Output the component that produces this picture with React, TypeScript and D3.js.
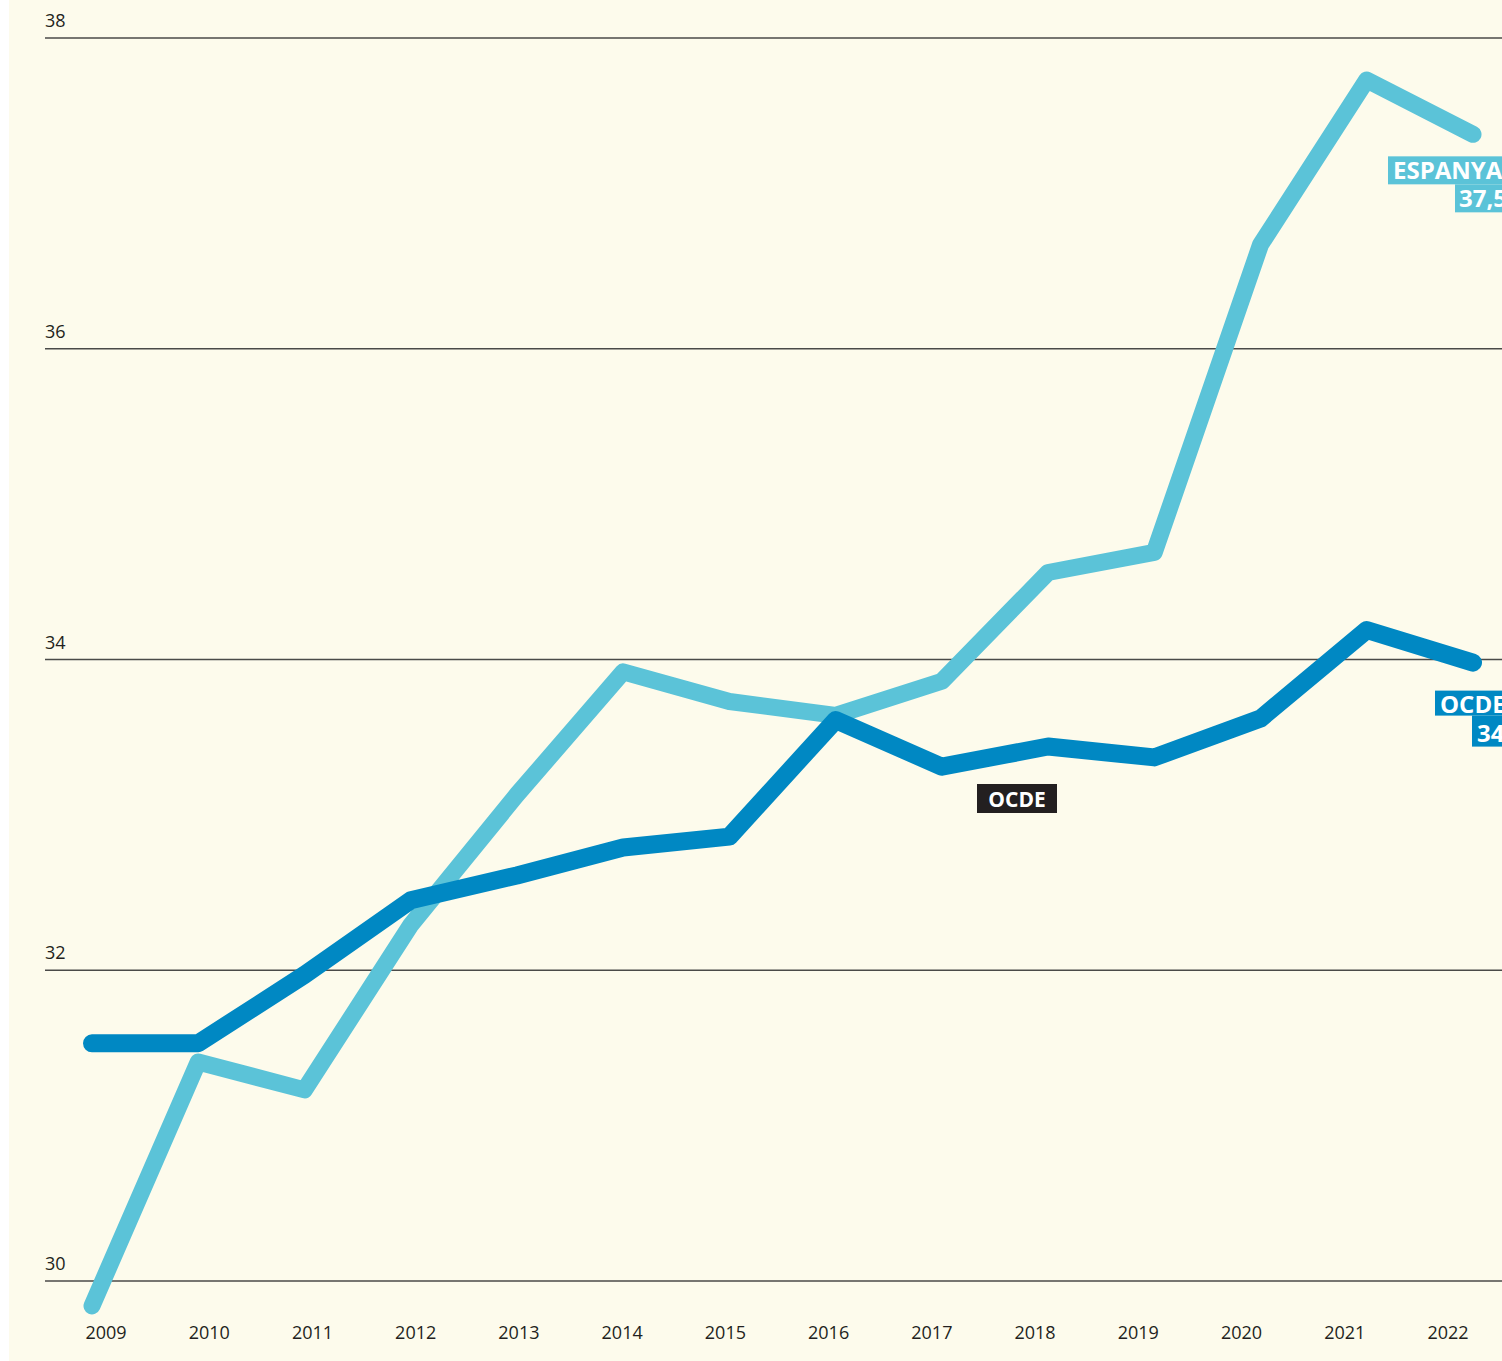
import React from "react";
import * as d3 from "d3";

const years = [2009, 2010, 2011, 2012, 2013, 2014, 2015, 2016, 2017, 2018, 2019, 2020, 2021, 2022];
const espanya = [29.84, 31.41, 31.23, 32.29, 33.13, 33.92, 33.73, 33.64, 33.86, 34.56, 34.69, 36.67, 37.73, 37.38];
const ocde = [31.53, 31.53, 31.97, 32.45, 32.61, 32.79, 32.86, 33.61, 33.31, 33.44, 33.37, 33.62, 34.19, 33.98];
const yTicks = [30, 32, 34, 36, 38];
const espanyaLabel = ["ESPANYA", "37,5%"];
const ocdeEndLabel = ["OCDE", "34%"];
const ocdeInlineLabel = "OCDE";

const W = 1502;
const H = 1361;
const LIGHT = "#5bc3d8";
const DARK = "#0088c3";
const INK = "#231f20";
const BG = "#fdfbec";
const FONT = "'Open Sans', 'Noto Sans', sans-serif";

export default function App() {
  const x = d3.scalePoint<number>().domain(years).range([92, 1473]);
  const xLab = d3.scalePoint<number>().domain(years).range([106, 1448]);
  const y = d3.scaleLinear().domain([30, 38]).range([1281, 38]);

  const line = d3
    .line<number>()
    .x((_, i) => x(years[i]) as number)
    .y((d) => y(d));

  const lastX = x(years[years.length - 1]) as number;
  const eY = y(espanya[espanya.length - 1]);
  const oY = y(ocde[ocde.length - 1]);

  return (
    <svg
      width={W}
      height={H}
      style={{ position: "absolute", left: 0, top: 0, display: "block", overflow: "hidden" }}
      fontFamily={FONT}
    >
      <rect x={0} y={0} width={W} height={H} fill="#ffffff" />
      <rect x={9} y={0} width={W - 9} height={H} fill={BG} />

      {yTicks.map((t) => (
        <g key={t}>
          <line x1={45} x2={W} y1={y(t)} y2={y(t)} stroke="#4a4a48" strokeWidth={1.3} />
          <text x={45} y={y(t) - 11} fontSize={18} fill={INK}>
            {t}
          </text>
        </g>
      ))}

      {years.map((yr) => (
        <text key={yr} x={xLab(yr)} y={1339} fontSize={18} fill={INK} textAnchor="middle">
          {yr}
        </text>
      ))}

      <path d={line(espanya) || ""} fill="none" stroke={LIGHT} strokeWidth={17} strokeLinecap="round" strokeLinejoin="round" />
      <path d={line(ocde) || ""} fill="none" stroke={DARK} strokeWidth={18} strokeLinecap="round" strokeLinejoin="round" />

      {/* Inline OCDE label */}
      <g>
        <rect x={977} y={784} width={80} height={29} fill={INK} />
        <text x={1017} y={807} fontSize={21} fontWeight={700} fill="#ffffff" textAnchor="middle">
          {ocdeInlineLabel}
        </text>
      </g>

      {/* ESPANYA end label */}
      <g>
        <rect x={lastX - 85} y={eY + 22} width={140} height={28} fill={LIGHT} />
        <rect x={lastX - 18} y={eY + 50} width={80} height={28} fill={LIGHT} />
        <text x={lastX - 80} y={eY + 45} fontSize={24} fontWeight={700} fill="#ffffff">
          {espanyaLabel[0]}
        </text>
        <text x={lastX - 14} y={eY + 73} fontSize={24} fontWeight={700} fill="#ffffff">
          {espanyaLabel[1]}
        </text>
      </g>

      {/* OCDE end label */}
      <g>
        <rect x={lastX - 38} y={oY + 28} width={100} height={25} fill={DARK} />
        <rect x={lastX - 1} y={oY + 53} width={60} height={31} fill={DARK} />
        <text x={lastX - 33} y={oY + 50} fontSize={24} fontWeight={700} fill="#ffffff">
          {ocdeEndLabel[0]}
        </text>
        <text x={lastX + 4} y={oY + 79} fontSize={24} fontWeight={700} fill="#ffffff">
          {ocdeEndLabel[1]}
        </text>
      </g>
    </svg>
  );
}
